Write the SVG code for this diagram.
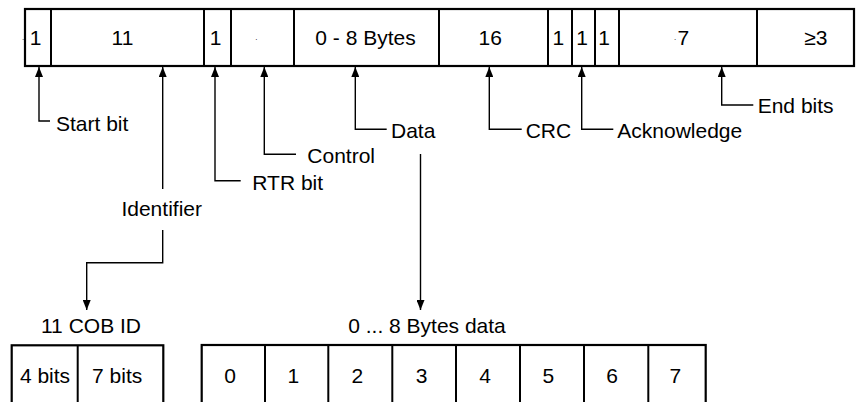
<svg xmlns="http://www.w3.org/2000/svg" width="864" height="402" viewBox="0 0 864 402">
<style>
text{font-family:"Liberation Sans",Arial,Helvetica,sans-serif;font-size:21px;fill:#000}
.m{text-anchor:middle}
.dot{font-size:8px}
.box{fill:#fff;stroke:#000;stroke-width:2.2}
.div{stroke:#000;stroke-width:2}
.c{fill:none;stroke:#000;stroke-width:1.4;marker-end:url(#ah)}
</style>
<defs>
<marker id="ah" markerUnits="userSpaceOnUse" markerWidth="10" markerHeight="8" refX="10" refY="4" orient="auto">
<path d="M0,0 L10,4 L0,8 z" fill="#000"/>
</marker>
</defs>
<rect width="864" height="402" fill="#fff"/>
<g id="frame">
<rect class="box" x="25" y="9" width="829" height="57"/>
<line class="div" x1="51" y1="9" x2="51" y2="66"/>
<line class="div" x1="204" y1="9" x2="204" y2="66"/>
<line class="div" x1="231" y1="9" x2="231" y2="66"/>
<line class="div" x1="294" y1="9" x2="294" y2="66"/>
<line class="div" x1="439" y1="9" x2="439" y2="66"/>
<line class="div" x1="548" y1="9" x2="548" y2="66"/>
<line class="div" x1="572" y1="9" x2="572" y2="66"/>
<line class="div" x1="595" y1="9" x2="595" y2="66"/>
<line class="div" x1="619" y1="9" x2="619" y2="66"/>
<line class="div" x1="757" y1="9" x2="757" y2="66"/>
<text class="dot m" x="23" y="40">.</text>
<text class="m" x="35.5" y="44.5">1</text>
<text class="m" x="122.5" y="44.5">11</text>
<text class="m" x="215.7" y="44.5">1</text>
<text class="dot m" x="256.3" y="40">.</text>
<text class="m" x="365.5" y="44.5">0 - 8 Bytes</text>
<text class="m" x="490.3" y="44.5">16</text>
<text class="m" x="558.3" y="44.5">1</text>
<text class="m" x="582" y="44.5">1</text>
<text class="m" x="604.2" y="44.5">1</text>
<text class="dot m" x="675" y="40">.</text>
<text class="m" x="683.3" y="44.5">7</text>
<text class="m" x="815.8" y="44.5">≥3</text>
</g>
<g id="connectors">
<path class="c" d="M50,121 H39 V67"/>
<path class="c" d="M162.7,189 V67"/>
<path class="c" d="M240.7,180.7 H215 V67"/>
<path class="c" d="M296,154.3 H264.3 V67"/>
<path class="c" d="M386.7,129.3 H355.3 V67"/>
<path class="c" d="M521.7,129.3 H489.3 V67"/>
<path class="c" d="M613.3,129.3 H581.7 V67"/>
<path class="c" d="M753.3,105 H721.7 V67"/>
<path class="c" d="M420.5,154 V310"/>
<path class="c" d="M162.7,230 V262.7 H86.7 V310"/>
</g>
<g id="labels">
<text x="56" y="131">Start bit</text>
<text class="m" x="161.7" y="216">Identifier</text>
<text x="252.3" y="190">RTR bit</text>
<text x="307.3" y="162.7">Control</text>
<text x="391" y="137.7">Data</text>
<text x="525.7" y="137.7">CRC</text>
<text x="617.3" y="137.7">Acknowledge</text>
<text x="757.7" y="113.3">End bits</text>
</g>
<g id="cob">
<text class="m" x="91" y="333">11 COB ID</text>
<rect class="box" x="11.7" y="345.3" width="151.6" height="70"/>
<line class="div" x1="77.7" y1="345.3" x2="77.7" y2="410"/>
<text class="m" x="45" y="383">4 bits</text>
<text class="m" x="117.2" y="383">7 bits</text>
</g>
<g id="databytes">
<text class="m" x="427" y="333">0 ... 8 Bytes data</text>
<rect class="box" x="201.7" y="345" width="504" height="70"/>
<line class="div" x1="265" y1="345" x2="265" y2="410"/>
<line class="div" x1="328.3" y1="345" x2="328.3" y2="410"/>
<line class="div" x1="392.3" y1="345" x2="392.3" y2="410"/>
<line class="div" x1="456" y1="345" x2="456" y2="410"/>
<line class="div" x1="520" y1="345" x2="520" y2="410"/>
<line class="div" x1="584" y1="345" x2="584" y2="410"/>
<line class="div" x1="648.3" y1="345" x2="648.3" y2="410"/>
<text class="m" x="230" y="383">0</text>
<text class="m" x="293.3" y="383">1</text>
<text class="m" x="357.3" y="383">2</text>
<text class="m" x="421.7" y="383">3</text>
<text class="m" x="485" y="383">4</text>
<text class="m" x="548.3" y="383">5</text>
<text class="m" x="612" y="383">6</text>
<text class="m" x="675.3" y="383">7</text>
</g>
</svg>
